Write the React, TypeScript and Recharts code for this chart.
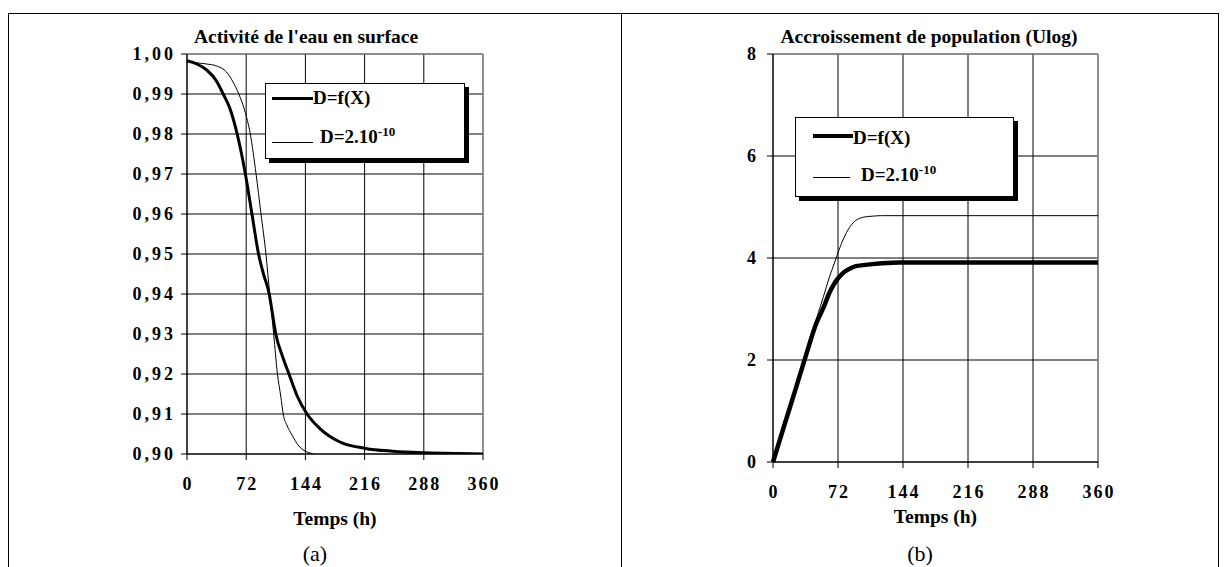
import React from "react";
import { LineChart, Line, XAxis, YAxis, CartesianGrid, ReferenceLine, Legend } from "recharts";

const FONT = '"Liberation Serif", "Times New Roman", Times, serif';

// axis ticks
const timeTicks = [0, 72, 144, 216, 288, 360];
const awTicks = [0.9, 0.91, 0.92, 0.93, 0.94, 0.95, 0.96, 0.97, 0.98, 0.99, 1.0];
const ulogTicks = [0, 2, 4, 6, 8];

// texts
const seriesNames = ["D=f(X)", "D=2.10"];
const exponentLabel = "-10";
const panelTitles = ["Activité de l'eau en surface", "Accroissement de population (Ulog)"];
const axisTitle = "Temps (h)";
const captions = ["(a)", "(b)"];

// (a) water activity at surface, D = f(X)
const awFxTime = [0, 12, 24, 36, 44, 52, 61, 71, 79, 87, 93, 100, 104, 108, 116, 124, 134, 146, 162, 186, 217, 250, 290, 330, 360];
const awFxValue = [0.9983, 0.9975, 0.996, 0.9932, 0.99, 0.9865, 0.98, 0.97, 0.96, 0.95, 0.945, 0.94, 0.935, 0.93, 0.9245, 0.92, 0.9145, 0.91, 0.9063, 0.903, 0.9014, 0.9007, 0.9003, 0.9001, 0.9];
// (a) water activity at surface, D = 2.10^-10
const awConstTime = [0, 12, 24, 36, 48, 56, 63, 70, 77, 84, 90, 96, 100.6, 105.4, 110, 114, 117, 122, 127, 136, 146, 153];
const awConstValue = [0.9983, 0.9978, 0.9975, 0.997, 0.9955, 0.993, 0.99, 0.986, 0.98, 0.97, 0.96, 0.95, 0.94, 0.93, 0.92, 0.9145, 0.91, 0.907, 0.905, 0.902, 0.9005, 0.9001];

// (b) population growth (Ulog), D = f(X)
const ulogFxTime = [0, 12, 24, 36, 48, 56, 62, 68, 74, 80, 86, 92, 100, 110, 126, 140, 360];
const ulogFxValue = [0, 0.69, 1.37, 2.06, 2.72, 3.03, 3.3, 3.5, 3.64, 3.74, 3.8, 3.84, 3.86, 3.88, 3.9, 3.91, 3.91];
// (b) population growth (Ulog), D = 2.10^-10
const ulogConstTime = [0, 12, 24, 36, 48, 56, 62, 68, 74, 80, 86, 92, 100, 110, 120, 360];
const ulogConstValue = [0, 0.7, 1.4, 2.1, 2.8, 3.25, 3.6, 3.9, 4.2, 4.45, 4.63, 4.74, 4.8, 4.82, 4.83, 4.83];

const zip = (t: number[], v: number[]) => t.map((x, i) => ({ t: x, v: v[i] }));

const fmtComma = (v: number) => v.toFixed(2).replace(".", ",");
const fmtInt = (v: number) => String(v);

const YTick = (props: any) => {
  const { x, y, payload, fmt, dx, ls } = props;
  return (
    <text
      x={x + dx}
      y={y}
      textAnchor="end"
      dominantBaseline="central"
      fontFamily={FONT}
      fontWeight="bold"
      fontSize={18}
      letterSpacing={ls}
      fill="#000"
    >
      {fmt(payload.value)}
    </text>
  );
};

const XTick = (props: any) => {
  const { x, y, payload, dy, ls } = props;
  return (
    <text
      x={x + ls / 2}
      y={y + dy}
      textAnchor="middle"
      dominantBaseline="central"
      fontFamily={FONT}
      fontWeight="bold"
      fontSize={18}
      letterSpacing={ls}
      fill="#000"
    >
      {payload.value}
    </text>
  );
};

type LegendCfg = {
  w: number;
  h: number;
  thick: number;
  l1x: number;
  l1w: number;
  l1y: number;
  t1x: number;
  t1top: number;
  l2x: number;
  l2w: number;
  l2y: number;
  t2x: number;
  t2top: number;
};

const LegendBox = ({ c }: { c: LegendCfg }) => (
  <div
    style={{
      position: "relative",
      boxSizing: "border-box",
      width: c.w,
      height: c.h,
      background: "#fff",
      border: "1px solid #000",
      boxShadow: "4px 4px 0 #000",
      fontFamily: FONT,
      fontWeight: "bold",
      fontSize: 19,
      color: "#000",
    }}
  >
    <div style={{ position: "absolute", left: c.l1x - 1, top: c.l1y - c.thick / 2 - 1, width: c.l1w, height: c.thick, background: "#000" }} />
    <div style={{ position: "absolute", left: c.t1x - 1, top: c.t1top - 1, lineHeight: "19px", whiteSpace: "nowrap" }}>{seriesNames[0]}</div>
    <div style={{ position: "absolute", left: c.l2x - 1, top: c.l2y - 0.5 - 1, width: c.l2w, height: 1, background: "#000" }} />
    <div style={{ position: "absolute", left: c.t2x - 1, top: c.t2top - 1, lineHeight: "19px", whiteSpace: "nowrap" }}>
      {seriesNames[1]}
      <span style={{ fontSize: 13, position: "relative", top: -7.5 }}>{exponentLabel}</span>
    </div>
  </div>
);

const legendA: LegendCfg = { w: 200, h: 76, thick: 3, l1x: 7, l1w: 41, l1y: 15, t1x: 48, t1top: 5.4, l2x: 7, l2w: 41, l2y: 59, t2x: 55, t2top: 44.1 };
const legendB: LegendCfg = { w: 219, h: 80, thick: 4.5, l1x: 18, l1w: 40, l1y: 19, t1x: 58, t1top: 11.4, l2x: 18, l2w: 37, l2y: 60, t2x: 66, t2top: 48.1 };

const textStyle = (cx: number, top: number, fs: number, bold: boolean): React.CSSProperties => ({
  position: "absolute",
  left: cx - 250,
  width: 500,
  top,
  textAlign: "center",
  fontFamily: FONT,
  fontWeight: bold ? "bold" : "normal",
  fontSize: fs,
  lineHeight: `${fs}px`,
  color: "#000",
  whiteSpace: "nowrap",
});

export default function App() {
  return (
    <div style={{ position: "absolute", left: 0, top: 0, width: 1226, height: 567, overflow: "hidden", background: "#fff" }}>
      {/* frame */}
      <div style={{ position: "absolute", left: 8, top: 13, width: 1211, height: 1, background: "#000" }} />
      <div style={{ position: "absolute", left: 8, top: 13, width: 1, height: 560, background: "#000" }} />
      <div style={{ position: "absolute", left: 621, top: 13, width: 1, height: 560, background: "#000" }} />
      <div style={{ position: "absolute", left: 1218, top: 13, width: 1, height: 560, background: "#000" }} />

      {/* panel (a) */}
      <div style={{ position: "absolute", left: 0, top: 0 }}>
        <LineChart width={613} height={567} margin={{ top: 54, right: 130, bottom: 83, left: 127 }}>
          <CartesianGrid stroke="#000" strokeWidth={1} />
          <ReferenceLine y={1.0} stroke="#9a9a9a" strokeWidth={1.2} />
          <ReferenceLine x={360} stroke="#9a9a9a" strokeWidth={1.2} />
          <XAxis
            dataKey="t"
            type="number"
            domain={[0, 360]}
            ticks={timeTicks}
            height={30}
            axisLine={{ stroke: "#000" }}
            tickLine={{ stroke: "#000" }}
            tickSize={6}
            tick={(p: any) => <XTick {...p} dy={22} ls={2} />}
            interval={0}
          />
          <YAxis
            type="number"
            domain={[0.9, 1.0]}
            ticks={awTicks}
            width={60}
            axisLine={{ stroke: "#000" }}
            tickLine={{ stroke: "#000" }}
            tickSize={6}
            tick={(p: any) => <YTick {...p} fmt={fmtComma} dx={-3} ls={3} />}
            interval={0}
            allowDataOverflow
          />
          <Line data={zip(awConstTime, awConstValue)} dataKey="v" type="monotone" stroke="#000" strokeWidth={1} dot={false} isAnimationActive={false} />
          <Line data={zip(awFxTime, awFxValue)} dataKey="v" type="monotone" stroke="#000" strokeWidth={3} dot={false} isAnimationActive={false} />
          <Legend
            layout="horizontal"
            verticalAlign="middle"
            align="center"
            wrapperStyle={{ left: 265, top: 83, width: 210, height: 86 }}
            content={() => <LegendBox c={legendA} />}
          />
        </LineChart>
      </div>

      {/* panel (b) */}
      <div style={{ position: "absolute", left: 613, top: 0 }}>
        <LineChart width={613} height={567} margin={{ top: 54, right: 128, bottom: 75, left: 100 }}>
          <CartesianGrid stroke="#000" strokeWidth={1} />
          <ReferenceLine y={8} stroke="#9a9a9a" strokeWidth={1.2} />
          <ReferenceLine x={360} stroke="#9a9a9a" strokeWidth={1.2} />
          <XAxis
            dataKey="t"
            type="number"
            domain={[0, 360]}
            ticks={timeTicks}
            height={30}
            axisLine={{ stroke: "#000" }}
            tickLine={{ stroke: "#000" }}
            tickSize={6}
            tick={(p: any) => <XTick {...p} dy={22} ls={2} />}
            interval={0}
          />
          <YAxis
            type="number"
            domain={[0, 8]}
            ticks={ulogTicks}
            width={60}
            axisLine={{ stroke: "#000" }}
            tickLine={{ stroke: "#000" }}
            tickSize={6}
            tick={(p: any) => <YTick {...p} fmt={fmtInt} dx={-9} ls={0} />}
            interval={0}
          />
          <Line data={zip(ulogConstTime, ulogConstValue)} dataKey="v" type="monotone" stroke="#000" strokeWidth={1} dot={false} isAnimationActive={false} />
          <Line data={zip(ulogFxTime, ulogFxValue)} dataKey="v" type="monotone" stroke="#000" strokeWidth={4.5} dot={false} isAnimationActive={false} />
          <Legend
            layout="horizontal"
            verticalAlign="middle"
            align="center"
            wrapperStyle={{ left: 182, top: 117, width: 229, height: 90 }}
            content={() => <LegendBox c={legendB} />}
          />
        </LineChart>
      </div>

      {/* titles and captions */}
      <div style={textStyle(306, 26.7, 19.5, true)}>{panelTitles[0]}</div>
      <div style={textStyle(929, 26.7, 19.5, true)}>{panelTitles[1]}</div>
      <div style={textStyle(335, 508.7, 19.5, true)}>{axisTitle}</div>
      <div style={textStyle(935.5, 506.7, 19.5, true)}>{axisTitle}</div>
      <div style={textStyle(315, 543, 22, false)}>{captions[0]}</div>
      <div style={textStyle(920, 543, 22, false)}>{captions[1]}</div>
    </div>
  );
}
